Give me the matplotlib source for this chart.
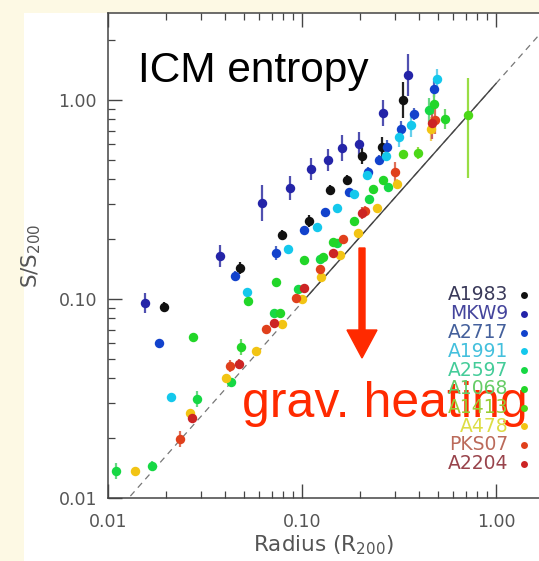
import matplotlib
matplotlib.use("Agg")
import matplotlib.pyplot as plt
import numpy as np
from matplotlib.patches import Rectangle, FancyArrow
from matplotlib.lines import Line2D

# ---------------- data ----------------
names = ["A1983", "MKW9", "A2717", "A1991", "A2597", "A1068", "A1413", "A478", "PKS07", "A2204"]
dot_colors = ["#111111", "#2424a8", "#1242cc", "#14c8ec", "#16d844", "#22d628", "#4cd818",
              "#f2c414", "#e0401c", "#cc2424"]
err_colors = ["#222222", "#5050b0", "#5068c4", "#66d0ec", "#66d884", "#6cd86c", "#99dd44",
              "#f0d060", "#e07058", "#cc6060"]
label_colors = ["#3a3a5a", "#44449c", "#44609c", "#44c0dd", "#44cc99", "#66cc66", "#99cc33",
                "#dddd44", "#bb6a5a", "#99444c"]

A1983_r = [0.0195, 0.0477, 0.0787, 0.1087, 0.1396, 0.171, 0.2046, 0.257, 0.333]
A1983_s = [0.091, 0.143, 0.210, 0.247, 0.353, 0.396, 0.523, 0.58, 1.00]
A1983_e = [0.025, 0.03, 0.025, 0.03, 0.025, 0.025, 0.04, 0.05, 0.09]

MKW9_r = [0.0156, 0.038, 0.062, 0.087, 0.111, 0.136, 0.161, 0.197, 0.26, 0.35]
MKW9_s = [0.0955, 0.164, 0.304, 0.361, 0.45, 0.50, 0.574, 0.601, 0.86, 1.336]
MKW9_e = [0.05, 0.055, 0.09, 0.06, 0.055, 0.055, 0.065, 0.06, 0.065, 0.105]

A2717_r = [0.0184, 0.045, 0.0733, 0.102, 0.1315, 0.175, 0.22, 0.248, 0.275, 0.322, 0.38, 0.477]
A2717_s = [0.060, 0.131, 0.170, 0.222, 0.274, 0.345, 0.435, 0.50, 0.58, 0.715, 0.85, 1.136]
A2717_e = [0.015, 0.025, 0.035, 0.015, 0.015, 0.02, 0.025, 0.025, 0.035, 0.04, 0.03, 0.04]

A1991_r = [0.0212, 0.0519, 0.0846, 0.1197, 0.152, 0.186, 0.217, 0.272, 0.318, 0.363, 0.494]
A1991_s = [0.0322, 0.108, 0.178, 0.230, 0.287, 0.337, 0.42, 0.523, 0.652, 0.749, 1.275]
A1991_e = [0.015, 0.015, 0.02, 0.015, 0.015, 0.02, 0.02, 0.025, 0.05, 0.06, 0.05]

A2597_r = [0.011, 0.0169, 0.0286, 0.0428, 0.0716, 0.0953, 0.124, 0.152, 0.222, 0.279, 0.45]
A2597_s = [0.0137, 0.0145, 0.0314, 0.0383, 0.085, 0.112, 0.159, 0.191, 0.318, 0.366, 0.891]
A2597_e = [0.04, 0.025, 0.04, 0.02, 0.015, 0.015, 0.015, 0.015, 0.02, 0.02, 0.06]

A1068_r = [0.0275, 0.0483, 0.0525, 0.0733, 0.077, 0.1023, 0.128, 0.145, 0.186, 0.233, 0.262, 0.477, 0.545]
A1068_s = [0.0644, 0.0574, 0.0977, 0.1217, 0.085, 0.157, 0.163, 0.193, 0.247, 0.357, 0.396, 0.955, 0.803]
A1068_e = [0.015, 0.04, 0.015, 0.015, 0.015, 0.015, 0.015, 0.015, 0.02, 0.02, 0.02, 0.05, 0.05]

A1413_r = [0.333, 0.394, 0.716]
A1413_s = [0.535, 0.542, 0.841]
A1413_e = [0.02, 0.03, 0.186]
A1413_e_low = [0.02, 0.03, 0.317]

A478_r = [0.0138, 0.0266, 0.0408, 0.0578, 0.0787, 0.100, 0.125, 0.157, 0.195, 0.245, 0.307, 0.46]
A478_s = [0.0137, 0.0267, 0.040, 0.0548, 0.0748, 0.100, 0.129, 0.166, 0.215, 0.287, 0.378, 0.715]
A478_e = [0.02, 0.02, 0.02, 0.015, 0.015, 0.015, 0.015, 0.015, 0.02, 0.02, 0.025, 0.06]

PKS07_r = [0.0236, 0.0424, 0.065, 0.093, 0.124, 0.163, 0.21, 0.30, 0.483]
PKS07_s = [0.0198, 0.046, 0.0707, 0.101, 0.1415, 0.200, 0.277, 0.435, 0.79]
PKS07_e = [0.04, 0.03, 0.015, 0.015, 0.015, 0.02, 0.025, 0.05, 0.07]

A2204_r = [0.0272, 0.0472, 0.0716, 0.102, 0.145, 0.2046, 0.47]
A2204_s = [0.0252, 0.0471, 0.0757, 0.1135, 0.17, 0.27, 0.766]
A2204_e = [0.02, 0.025, 0.015, 0.015, 0.015, 0.03, 0.08]

series_r = [A1983_r, MKW9_r, A2717_r, A1991_r, A2597_r, A1068_r, A1413_r, A478_r, PKS07_r, A2204_r]
series_s = [A1983_s, MKW9_s, A2717_s, A1991_s, A2597_s, A1068_s, A1413_s, A478_s, PKS07_s, A2204_s]
series_e_up = [A1983_e, MKW9_e, A2717_e, A1991_e, A2597_e, A1068_e, A1413_e, A478_e, PKS07_e, A2204_e]
series_e_dn = [A1983_e, MKW9_e, A2717_e, A1991_e, A2597_e, A1068_e, A1413_e_low, A478_e, PKS07_e, A2204_e]

# baseline model S/S200 = norm * r^slope
base_norm = 1.21
base_slope = 1.1
dash_range = [0.01, 1.7]
solid_range = [0.1, 1.0]

xticks = [0.01, 0.1, 1.0]
xticklabels = ["0.01", "0.10", "1.00"]
yticks = [0.01, 0.1, 1.0]
yticklabels = ["0.01", "0.10", "1.00"]

# ---------------- figure ----------------
W, H = 539, 561
fig = plt.figure(figsize=(W / 100, H / 100), dpi=100, facecolor="#fdf9e4")
fig.patches.append(Rectangle((24 / W, 0), 1 - 24 / W, 1 - 13 / H, transform=fig.transFigure,
                             facecolor="white", edgecolor="none", zorder=-10))

ax = fig.add_axes([108 / W, 1 - 498 / H, (W - 108) / W, 485 / H])
ax.set_zorder(1)
ax.set_facecolor("white")
ax.set_xscale("log")
ax.set_yscale("log")
ax.set_xlim(0.01, 10 ** (-1 + (W - 302) / 194))
ax.set_ylim(0.01, 10 ** (87 / 199))

# baseline lines
xd = np.logspace(np.log10(dash_range[0]), np.log10(dash_range[1]), 50)
ax.plot(xd, base_norm * xd ** base_slope, ls=(0, (5, 4)), color="#777777", lw=0.9, zorder=1)
xs = np.logspace(np.log10(solid_range[0]), np.log10(solid_range[1]), 50)
ax.plot(xs, base_norm * xs ** base_slope, ls="-", color="#444444", lw=1.0, zorder=1.5)

for r, s, eu, ed, c, ec in zip(series_r, series_s, series_e_up, series_e_dn, dot_colors, err_colors):
    r = np.array(r); s = np.array(s); eu = np.array(eu); ed = np.array(ed)
    yerr = [s - s * 10 ** (-ed), s * 10 ** eu - s]
    ax.errorbar(r, s, yerr=yerr, fmt="none", ecolor=ec, elinewidth=1.6, capsize=0, zorder=2)
    ax.plot(r, s, "o", ms=6.8, mec="none", color=c, zorder=3)

# ticks and spines
for side in ["top", "left", "bottom"]:
    ax.spines[side].set_color("#444444")
    ax.spines[side].set_linewidth(1.1)
ax.spines["right"].set_visible(False)
ax.tick_params(which="both", direction="in", top=True, right=False, color="#444444",
               labelcolor="#555555", labelsize=12.5)
ax.tick_params(which="major", length=10, width=1.0)
ax.tick_params(which="minor", length=5, width=0.9)
ax.tick_params(axis="x", which="major", pad=11)
ax.tick_params(axis="y", which="major", pad=8)
ax.set_xticks(xticks)
ax.set_xticklabels(xticklabels)
ax.set_yticks(yticks)
ax.set_yticklabels(yticklabels)
ax.xaxis.set_minor_formatter(matplotlib.ticker.NullFormatter())
ax.yaxis.set_minor_formatter(matplotlib.ticker.NullFormatter())

ax.set_xlabel("Radius (R$_{200}$)", fontsize=15.5, color="#555555")
ax.set_ylabel("S/S$_{200}$", fontsize=15.5, color="#555555")
ax.xaxis.set_label_coords(0.5, -0.074)
ax.yaxis.set_label_coords(-0.151, 0.5)

# titles / annotation
fig.text(138 / W, 1 - 82 / H, "ICM entropy", fontsize=30.5, family="Liberation Sans",
         color="black", va="baseline", ha="left", zorder=5)

fig.add_artist(FancyArrow(362 / W, 1 - 248 / H, 0, -(358 - 248) / H, width=6 / W,
                          head_width=30 / W, head_length=28 / H, length_includes_head=True,
                          color="#ff2a00", transform=fig.transFigure, zorder=5))

fig.text(242 / W, 1 - 417 / H, "grav. heating", fontsize=36, family="Liberation Sans",
         color="#ff2a00", va="baseline", ha="left", zorder=5)

# legend
for i, (n, lc, dc) in enumerate(zip(names, label_colors, dot_colors)):
    yy = 1 - (295 + 18.75 * i) / H
    fig.text(508 / W, yy, n, fontsize=13.5, color=lc, ha="right", va="center", zorder=6)
    fig.add_artist(Line2D([524 / W], [yy], marker="o", ms=5, mec="none", color=dc,
                          transform=fig.transFigure, zorder=6))

fig.savefig("out.png", dpi=100, facecolor=fig.get_facecolor())
